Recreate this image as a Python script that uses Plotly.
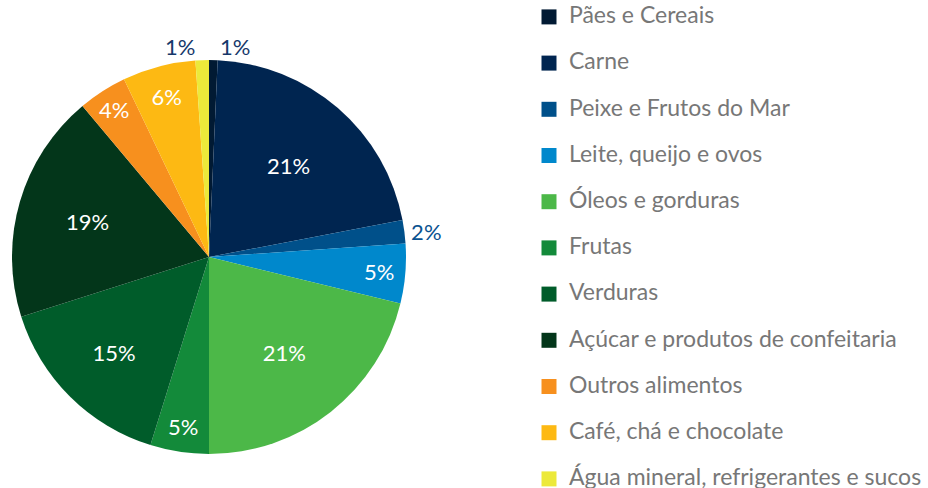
import plotly.graph_objects as go

categories = ["Pães e Cereais", "Carne", "Peixe e Frutos do Mar", "Leite, queijo e ovos",
              "Óleos e gorduras", "Frutas", "Verduras", "Açúcar e produtos de confeitaria",
              "Outros alimentos", "Café, chá e chocolate", "Água mineral, refrigerantes e sucos"]
values = [0.7, 21.3, 1.9, 4.9, 21.2, 4.8, 15.3, 18.8, 4.0, 6.0, 1.1]
colors = ["#011a33", "#002550", "#00508a", "#0088cc", "#4cb848", "#138a3a",
          "#005c2a", "#03361a", "#f7901e", "#fdb913", "#ece93a"]
positions = ["outside", "inside", "outside", "inside", "inside", "inside",
             "inside", "inside", "inside", "inside", "outside"]
out_colors = ["#16386a", "#16386a", "#0a5290", "#16386a", "#16386a", "#16386a",
              "#16386a", "#16386a", "#16386a", "#16386a", "#16386a"]

FONT = "Lato"
W, H = 928, 488
cx, cy, r = 209, 257, 197

fig = go.Figure()
fig.add_trace(go.Pie(
    labels=categories, values=values, sort=False, direction="clockwise", rotation=0,
    marker=dict(colors=colors, line=dict(width=0)),
    texttemplate="%{percent:.0%}", textposition=positions,
    insidetextorientation="horizontal",
    insidetextfont=dict(color="white", size=22, family=FONT),
    outsidetextfont=dict(color=out_colors, size=22, family=FONT),
    domain=dict(x=[(cx - r) / W, (cx + r) / W], y=[1 - (cy + r) / H, 1 - (cy - r) / H]),
    showlegend=False, hoverinfo="label+percent",
))

for i, (name, col) in enumerate(zip(categories, colors)):
    fig.add_trace(go.Scatter(
        x=[None], y=[None], mode="markers", name=f"<span style='font-size:23px'>{name}</span>",
        marker=dict(symbol="square", size=15, color=col),
        legendgroup=f"g{i}", showlegend=True,
    ))

fig.update_layout(
    width=W, height=H, margin=dict(l=0, r=0, t=0, b=0),
    paper_bgcolor="white", plot_bgcolor="white",
    xaxis=dict(visible=False), yaxis=dict(visible=False),
    legend=dict(x=529 / W, xanchor="left", y=1, yanchor="top",
                font=dict(size=16, color="#777777", family=FONT),
                tracegroupgap=22.4, bgcolor="rgba(0,0,0,0)", maxheight=700),
    font=dict(family=FONT),
)

fig.write_html("out.html", config={"displayModeBar": False},
               post_script="document.body.style.margin='0';")
